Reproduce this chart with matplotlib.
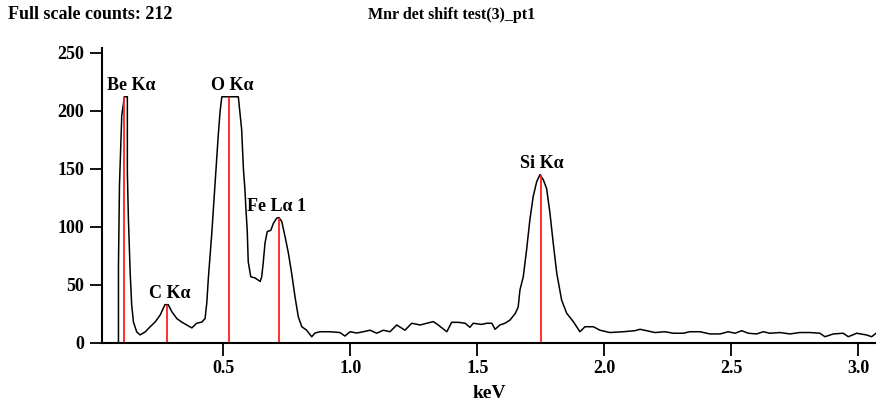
import numpy as np
import matplotlib.pyplot as plt

plt.rcParams['font.family'] = ['Liberation Serif', 'DejaVu Serif']
plt.rcParams['font.weight'] = 'bold'

# spectrum (keV, counts)
kev = [0.021, 0.087, 0.087, 0.091, 0.100, 0.106, 0.110, 0.122, 0.122, 0.126,
       0.133, 0.139, 0.146, 0.159, 0.172, 0.192, 0.212, 0.231, 0.251, 0.270,
       0.283, 0.297, 0.317, 0.336, 0.356, 0.376, 0.395, 0.415, 0.428, 0.435,
       0.441, 0.454, 0.467, 0.480, 0.487, 0.494, 0.559, 0.572, 0.579, 0.585,
       0.589, 0.594, 0.598, 0.608, 0.625, 0.645, 0.651, 0.657, 0.664, 0.673,
       0.687, 0.697, 0.710, 0.719, 0.730, 0.743, 0.756, 0.769, 0.782, 0.795,
       0.809, 0.828, 0.848, 0.861, 0.881, 0.920, 0.959, 0.979, 0.999, 1.025,
       1.051, 1.078, 1.104, 1.130, 1.156, 1.183, 1.215, 1.242, 1.275, 1.301,
       1.327, 1.346, 1.380, 1.399, 1.425, 1.452, 1.471, 1.484, 1.517, 1.537,
       1.557, 1.570, 1.589, 1.609, 1.629, 1.650, 1.661, 1.668, 1.681, 1.694,
       1.707, 1.720, 1.734, 1.747, 1.760, 1.773, 1.786, 1.799, 1.813, 1.832,
       1.852, 1.878, 1.904, 1.924, 1.957, 1.983, 2.022, 2.075, 2.121, 2.141,
       2.167, 2.200, 2.239, 2.272, 2.311, 2.337, 2.377, 2.416, 2.456, 2.488,
       2.515, 2.541, 2.567, 2.600, 2.626, 2.652, 2.692, 2.731, 2.770, 2.810,
       2.849, 2.869, 2.902, 2.941, 2.961, 2.994, 3.033, 3.053, 3.070]
counts = [0, 0, 67, 136, 196, 205, 212, 212, 147, 108,
          61, 33, 18, 9.5, 7, 9.5, 14, 18, 24, 33,
          33, 27, 21, 18, 15.5, 13, 17, 18, 21, 35,
          56, 93, 136, 179, 199, 212, 212, 184, 150, 132,
          115, 97, 70, 57, 56, 53, 57, 69, 86, 96,
          97, 103, 107.5, 108, 104.6, 91.6, 77.6, 60, 40, 22.7,
          14, 11, 5.4, 8.6, 9.7, 9.7, 9, 6, 9.7, 8.6,
          9.7, 11, 8.4, 11, 9.7, 15.5, 11, 17, 15.5, 17,
          18.4, 15.5, 9.7, 17.8, 17.8, 17, 13.5, 17, 16, 17,
          17, 11.8, 15.5, 17, 19.8, 25.6, 31, 45.7, 57, 80,
          106, 126, 139, 145, 140.5, 133, 112, 86, 60, 37,
          25.6, 18.4, 9.7, 14, 14, 11, 9, 9.7, 10.6, 11.8,
          10.6, 9, 9.7, 8.4, 8.4, 9.7, 9.7, 7.8, 7.8, 9.7,
          8.4, 10.6, 8.4, 7.8, 9.7, 8.4, 9, 7.8, 9, 9,
          8.4, 5.4, 7.8, 8.4, 5.4, 8.4, 6.9, 5.4, 8.4]

# peak markers
peak_names = ['Be K\u03b1', 'C K\u03b1', 'O K\u03b1', 'Fe L\u03b1 1', 'Si K\u03b1']
peak_kev = [0.110, 0.278, 0.524, 0.721, 1.749]
peak_top = [212, 33, 212, 108, 145]
label_dx = [5, 2, 2, -2, 1]  # small label nudges, points

fig = plt.figure(figsize=(8.76, 4.03), dpi=100)
ax = fig.add_axes([0.1161, 0.1489, 0.8839, 0.7320])

ax.plot(kev, counts, color='black', lw=1.1)
ax.vlines(peak_kev, 0, peak_top, color='#ff2020', lw=1.3)
for name, x, top, dx in zip(peak_names, peak_kev, peak_top, label_dx):
    ax.annotate(name, (x, top), xytext=(dx, 2), textcoords='offset points',
                ha='center', va='bottom', fontsize=13, fontweight='bold')

ax.set_xlim(0.021, 3.070)
ax.set_ylim(0, 254)
ax.set_xticks([0.5, 1.0, 1.5, 2.0, 2.5, 3.0])
ax.set_xticklabels(['0.5', '1.0', '1.5', '2.0', '2.5', '3.0'])
ax.set_yticks([0, 50, 100, 150, 200, 250])
ax.tick_params(axis='both', direction='out', length=9, width=1.3,
               labelsize=13, colors='black')
ax.tick_params(axis='x', pad=3)
for lab in ax.get_xticklabels() + ax.get_yticklabels():
    lab.set_fontweight('bold')
for s in ['top', 'right']:
    ax.spines[s].set_visible(False)
for s in ['left', 'bottom']:
    ax.spines[s].set_linewidth(1.5)
ax.set_xlabel('keV', fontsize=14, fontweight='bold', labelpad=6)

fig.text(0.009, 0.963, 'Full scale counts: 212', fontsize=13,
         fontweight='bold', va='center', ha='left')
fig.text(0.515, 0.963, 'Mnr det shift test(3)_pt1', fontsize=11.5,
         fontweight='bold', va='center', ha='center')

fig.savefig('out.png', dpi=100)
